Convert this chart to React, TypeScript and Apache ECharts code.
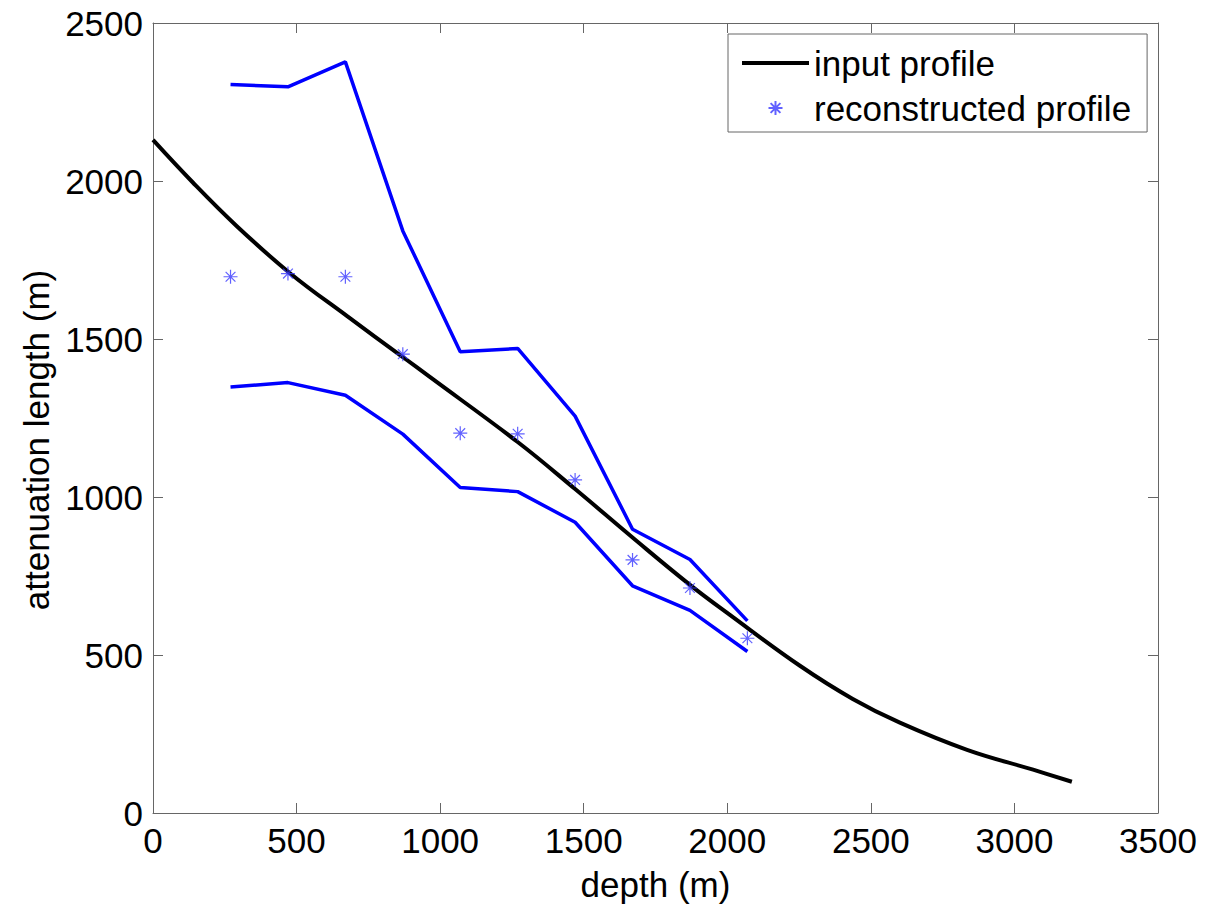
import React, { useEffect, useRef } from "react";
import * as echarts from "echarts";

// Input (true) attenuation-length profile
const curveDepth = [0, 138, 292, 476, 675, 870, 964, 1270, 1469, 1671, 1870, 2009, 2253, 2437, 2601, 2835, 3065, 3200];
const curveValue = [2130, 1996, 1857, 1709, 1573, 1443, 1380, 1174, 1026, 871, 722, 627, 466, 361, 286, 200, 137, 99];

// Reconstructed profile and bounds
const sampleDepth = [270, 470, 670, 870, 1070, 1270, 1470, 1670, 1870, 2070];
const reconstructed = [1697, 1707, 1697, 1452, 1202, 1200, 1054, 801, 712, 553];
const upperBound = [2305, 2298, 2377, 1842, 1460, 1470, 1256, 898, 802, 608];
const lowerBound = [1348, 1362, 1322, 1199, 1030, 1017, 920, 719, 641, 511];

const FONT = "'Liberation Sans', Arial, Helvetica, sans-serif";
const STAR = "path://M6,0L6,12M0,6L12,6M1.8,1.8L10.2,10.2M10.2,1.8L1.8,10.2";

const zip = (xs: number[], ys: number[]) => xs.map((x, i) => [x, ys[i]]);
const plain = (v: number) => String(v);

export default function App() {
  const ref = useRef<HTMLDivElement>(null);
  useEffect(() => {
    if (!ref.current) return;
    const chart = echarts.init(ref.current, undefined, { renderer: "svg" });
    const axisLine = { show: true, onZero: false, lineStyle: { color: "#666", width: 1 } };
    const axisTick = { show: true, inside: true, length: 10, lineStyle: { color: "#666", width: 1 } };
    chart.setOption({
      animation: false,
      backgroundColor: "#fff",
      grid: { left: 153, top: 23, right: 48, bottom: 100, containLabel: false },
      legend: {
        data: [
          { name: "input profile", itemStyle: { opacity: 0 }, lineStyle: { width: 4, color: "#000" } },
          { name: "reconstructed profile" },
        ],
        orient: "vertical",
        left: 728,
        top: 34,
        itemWidth: 67,
        itemHeight: 14,
        itemGap: 5,
        padding: [9, 16, 4, 12],
        borderColor: "#666",
        borderWidth: 1,
        backgroundColor: "#fff",
        selectedMode: false,
        textStyle: { fontSize: 35, color: "#000", fontFamily: FONT, lineHeight: 40 },
      },
      xAxis: [
        {
          type: "value", min: 0, max: 3500, interval: 500, position: "bottom",
          name: "depth (m)", nameLocation: "middle", nameGap: 54,
          nameTextStyle: { fontSize: 35, color: "#000", fontFamily: FONT },
          axisLine, axisTick,
          axisLabel: { fontSize: 35, color: "#000", margin: 10, fontFamily: FONT, formatter: plain },
          splitLine: { show: false },
        },
        {
          type: "value", min: 0, max: 3500, interval: 500, position: "top",
          axisLine, axisTick, axisLabel: { show: false }, splitLine: { show: false },
        },
      ],
      yAxis: [
        {
          type: "value", min: 0, max: 2500, interval: 500, position: "left",
          name: "attenuation length (m)", nameLocation: "middle", nameGap: 97,
          nameTextStyle: { fontSize: 35, color: "#000", fontFamily: FONT, padding: [0, 44, 0, 0] },
          axisLine, axisTick,
          axisLabel: { fontSize: 35, color: "#000", margin: 10, fontFamily: FONT, formatter: plain },
          splitLine: { show: false },
        },
        {
          type: "value", min: 0, max: 2500, interval: 500, position: "right",
          axisLine, axisTick, axisLabel: { show: false }, splitLine: { show: false },
        },
      ],
      series: [
        {
          name: "upper bound", type: "line", xAxisIndex: 0, yAxisIndex: 0,
          data: zip(sampleDepth, upperBound), symbol: "none",
          lineStyle: { color: "#0000ff", width: 3.5 }, z: 2,
        },
        {
          name: "lower bound", type: "line", xAxisIndex: 0, yAxisIndex: 0,
          data: zip(sampleDepth, lowerBound), symbol: "none",
          lineStyle: { color: "#0000ff", width: 3.5 }, z: 2,
        },
        {
          name: "input profile", type: "line", xAxisIndex: 0, yAxisIndex: 0,
          data: zip(curveDepth, curveValue), symbol: "none", smooth: 0.4,
          lineStyle: { color: "#000", width: 4 }, itemStyle: { color: "#000" }, z: 3,
        },
        {
          name: "reconstructed profile", type: "scatter", xAxisIndex: 0, yAxisIndex: 0,
          data: zip(sampleDepth, reconstructed), symbol: STAR, symbolSize: 14, symbolKeepAspect: true,
          itemStyle: { color: "rgba(0,0,0,0)", borderColor: "#3a3aff", borderWidth: 1.2 }, z: 4,
        },
      ],
    });
    return () => chart.dispose();
  }, []);
  return (
    <div
      ref={ref}
      style={{ position: "fixed", left: 0, top: 0, width: 1206, height: 913, background: "#fff" }}
    />
  );
}
